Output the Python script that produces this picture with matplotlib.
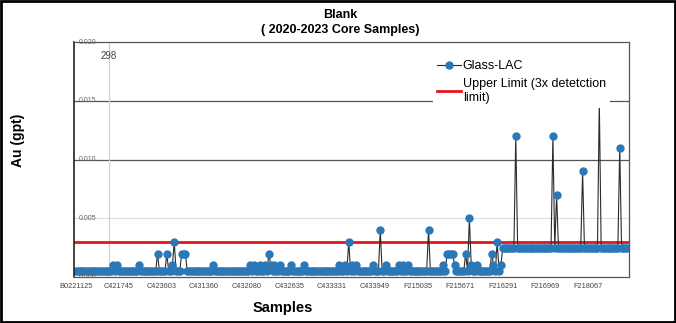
import matplotlib
matplotlib.use("Agg")
import matplotlib.pyplot as plt
from matplotlib.patches import Rectangle
from matplotlib.lines import Line2D

plt.rcParams['font.family'] = ['Liberation Sans', 'DejaVu Sans']

# ---- data (Au, gpt), 298 blank samples ----
au_part1 = [
    0.0005, 0.0005, 0.0005, 0.0005, 0.0005, 0.0005, 0.0005, 0.0005, 0.0005, 0.0005,  # 0-9
    0.0005, 0.0005, 0.0005, 0.0005, 0.0005, 0.0005, 0.0005, 0.0005, 0.0005, 0.0005,  # 10-19
    0.001,  0.0005, 0.001,  0.0005, 0.0005, 0.0005, 0.0005, 0.0005, 0.0005, 0.0005,  # 20-29
    0.0005, 0.0005, 0.0005, 0.0005, 0.001,  0.0005, 0.0005, 0.0005, 0.0005, 0.0005,  # 30-39
    0.0005, 0.0005, 0.0005, 0.0005, 0.002,  0.0005, 0.0005, 0.0005, 0.0005, 0.002,   # 40-49
    0.0005, 0.0005, 0.001,  0.003,  0.0005, 0.0005, 0.0005, 0.002,  0.002,  0.002,   # 50-59
    0.0005, 0.0005, 0.0005, 0.0005, 0.0005, 0.0005, 0.0005, 0.0005, 0.0005, 0.0005,  # 60-69
    0.0005, 0.0005, 0.0005, 0.0005, 0.001,  0.0005, 0.0005, 0.0005, 0.0005, 0.0005,  # 70-79
    0.0005, 0.0005, 0.0005, 0.0005, 0.0005, 0.0005, 0.0005, 0.0005, 0.0005, 0.0005,  # 80-89
    0.0005, 0.0005, 0.0005, 0.0005, 0.001,  0.0005, 0.001,  0.0005, 0.0005, 0.001,   # 90-99
    0.0005, 0.0005, 0.001,  0.0005, 0.002,  0.001,  0.0005, 0.001,  0.0005, 0.0005,  # 100-109
    0.001,  0.0005, 0.0005, 0.0005, 0.0005, 0.0005, 0.001,  0.0005, 0.0005, 0.0005,  # 110-119
    0.0005, 0.0005, 0.0005, 0.001,  0.0005, 0.0005, 0.0005, 0.0005, 0.0005, 0.0005,  # 120-129
    0.0005, 0.0005, 0.0005, 0.0005, 0.0005, 0.0005, 0.0005, 0.0005, 0.0005, 0.0005,  # 130-139
    0.0005, 0.0005, 0.001,  0.0005, 0.0005, 0.001,  0.0005, 0.003,  0.0005, 0.001,   # 140-149
    0.0005, 0.001,  0.0005, 0.0005, 0.0005, 0.0005, 0.0005, 0.0005, 0.0005, 0.0005,  # 150-159
    0.001,  0.0005, 0.0005, 0.0005, 0.004,  0.0005, 0.0005, 0.001,  0.0005, 0.0005,  # 160-169
    0.0005, 0.0005, 0.0005, 0.0005, 0.001,  0.0005, 0.001,  0.0005, 0.0005, 0.001,   # 170-179
    0.0005, 0.0005, 0.0005, 0.0005, 0.0005, 0.0005, 0.0005, 0.0005, 0.0005, 0.0005,  # 180-189
    0.004,  0.0005, 0.0005, 0.0005, 0.0005, 0.0005, 0.0005, 0.0005, 0.001,  0.0005,  # 190-199
    0.002,  0.002,  0.002,  0.002,  0.001,  0.0005, 0.0005, 0.0005, 0.0005, 0.0005,  # 200-209
    0.002,  0.0005, 0.005,  0.001,  0.0005, 0.0005, 0.001,  0.0005, 0.0005, 0.0005,  # 210-219
    0.0005, 0.0005, 0.0005, 0.0005, 0.002,  0.001,  0.0005, 0.003,  0.0005, 0.001,   # 220-229
]
au_part2 = [
    0.0025, 0.0025, 0.0025, 0.0025, 0.0025, 0.0025, 0.0025, 0.012,  0.0025, 0.0025,  # 230-239
    0.0025, 0.0025, 0.0025, 0.0025, 0.0025, 0.0025, 0.0025, 0.0025, 0.0025, 0.0025,  # 240-249
    0.0025, 0.0025, 0.0025, 0.0025, 0.0025, 0.0025, 0.0025, 0.012,  0.0025, 0.007,   # 250-259
    0.0025, 0.0025, 0.0025, 0.0025, 0.0025, 0.0025, 0.0025, 0.0025, 0.0025, 0.0025,  # 260-269
    0.0025, 0.0025, 0.0025, 0.009,  0.0025, 0.0025, 0.0025, 0.0025, 0.0025, 0.0025,  # 270-279
    0.0025, 0.0025, 0.015,  0.0025, 0.0025, 0.0025, 0.0025, 0.0025, 0.0025, 0.0025,  # 280-289
    0.0025, 0.0025, 0.0025, 0.011,  0.0025, 0.0025, 0.0025, 0.0025,                  # 290-297
]
au = au_part1 + au_part2
sample_index = list(range(len(au)))

upper_limit = 0.003

tick_positions = [0, 23, 46, 69, 92, 115, 138, 161, 184, 207, 230, 253, 276]
tick_labels = ["B0221125", "C421745", "C423603", "C431360", "C432080", "C432635",
               "C433331", "C433949", "F215035", "F215671", "F216291", "F216969",
               "F218067"]
y_ticks = [0.000, 0.005, 0.010, 0.015, 0.020]
y_tick_labels = ["0.000", "0.005", "0.010", "0.015", "0.020"]

# ---- figure ----
fig = plt.figure(figsize=(6.76, 3.23), dpi=100)
ax = fig.add_axes([74 / 676, 1 - 277 / 323, (629 - 74) / 676, (277 - 42) / 323])

ax.set_xlim(-1, 298)
ax.set_ylim(0, 0.020)

# grid lines
ax.axhline(0.015, color="#555555", lw=0.9, zorder=0.5)
ax.axhline(0.010, color="#555555", lw=0.9, zorder=0.5)
ax.axhline(0.005, color="#dddddd", lw=0.8, zorder=0.5)
ax.plot([0.063, 0.063], [0, 1], transform=ax.transAxes, color="#d0d0d0", lw=0.9, zorder=0.5)

# upper limit
ax.axhline(upper_limit, color="#e8141c", lw=2.0, zorder=1)

# series
ax.plot(sample_index, au, color="#2b2b2b", lw=0.8, marker="o", ms=5.0,
        mfc="#2a78b8", mec="#2a78b8", zorder=2)

# spines
for side in ["top", "right", "bottom"]:
    ax.spines[side].set_color("#555555")
    ax.spines[side].set_linewidth(0.9)
ax.spines["left"].set_color("#222222")
ax.spines["left"].set_linewidth(1.2)

ax.set_xticks(tick_positions)
ax.set_xticklabels(tick_labels, fontsize=5.3, color="#444444")
ax.tick_params(axis="x", length=0, pad=4)
ax.set_yticks([])

ytrans = ax.get_yaxis_transform()
for v, lab in zip(y_ticks, y_tick_labels):
    ax.text(0.008, v, lab, transform=ytrans, fontsize=5, color="#666666",
            ha="left", va="center", zorder=3)

ax.text(0.047, 0.94, "298", transform=ax.transAxes, fontsize=7, color="#444444",
        ha="left", va="center")

# legend
handles = [
    Line2D([0], [0], color="#2b2b2b", lw=0.8, marker="o", ms=5.0,
           mfc="#2a78b8", mec="#2a78b8"),
    Line2D([0], [0], color="#e8141c", lw=2.0),
]
leg = ax.legend(handles, ["Glass-LAC", "Upper Limit (3x detetction\nlimit)"],
                loc="upper left", bbox_to_anchor=((427 - 74) / 555, 1 - 8 / 235),
                frameon=True, fancybox=False, framealpha=1, edgecolor="white",
                fontsize=9, handlelength=1.9, handletextpad=0.15,
                borderpad=0.3, labelspacing=0.5)
leg.get_frame().set_linewidth(0)

# titles and axis labels
fig.text(340 / 676, 1 - 15 / 323, "Blank", fontsize=9, fontweight="bold",
         ha="center", va="center")
fig.text(340 / 676, 1 - 30 / 323, "( 2020-2023 Core Samples)", fontsize=9,
         fontweight="bold", ha="center", va="center")
fig.text(283 / 676, 1 - 308 / 323, "Samples", fontsize=10.5, fontweight="bold",
         ha="center", va="center")
fig.text(18 / 676, 1 - 140 / 323, "Au (gpt)", fontsize=10, fontweight="bold",
         rotation=90, ha="center", va="center")

fig.patches.append(Rectangle((0.002, 0.003), 0.996, 0.994, transform=fig.transFigure,
                             fill=False, ec="black", lw=2))

fig.savefig("out.png", dpi=100)
